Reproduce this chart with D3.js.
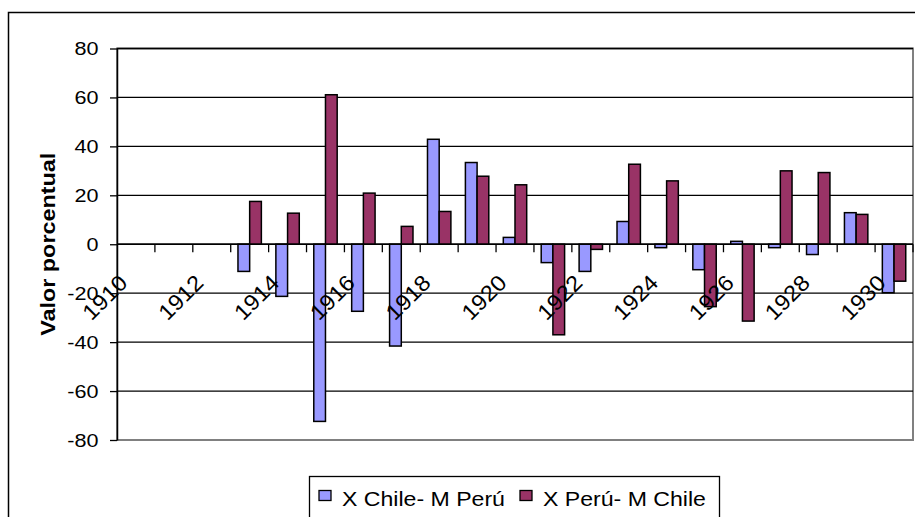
<!DOCTYPE html>
<html>
<head>
<meta charset="utf-8">
<script src="https://cdn.jsdelivr.net/npm/d3@7"></script>
<style>
  html, body { margin: 0; padding: 0; background: #fff; }
  svg { display: block; font-family: "Liberation Sans", Arial, sans-serif; }
</style>
</head>
<body>
<svg id="chart" width="915" height="517"></svg>
<script>
// Years on the category axis
const years = [1910, 1911, 1912, 1913, 1914, 1915, 1916, 1917, 1918, 1919, 1920,
               1921, 1922, 1923, 1924, 1925, 1926, 1927, 1928, 1929, 1930];

// Only every second year carries a label
const yearLabels = [1910, 1912, 1914, 1916, 1918, 1920, 1922, 1924, 1926, 1928, 1930];

// Series: percentage change
const seriesNames = ["X Chile- M Perú", "X Perú- M Chile"];
const xChileMPeru = [null, null, null, -11.1, -21.3, -72.4, -27.4, -41.6, 42.9, 33.4, 2.8,
                     -7.5, -11.1, 9.3, -1.4, -10.4, 1.2, -1.4, -4.2, 12.9, -19.8];
const xPeruMChile = [null, null, null, 17.5, 12.7, 61.1, 20.9, 7.3, 13.4, 27.8, 24.3,
                     -37.0, -2.1, 32.7, 25.9, -25.5, -31.4, 30.0, 29.3, 12.2, -15.1];

const yTicks = [-80, -60, -40, -20, 0, 20, 40, 60, 80];
const yTitle = "Valor porcentual";

const colors = ["#9999FF", "#993366"];
const STRETCH = 1.2;  // wide rendering of the chart font

const svg = d3.select("#chart");

// chart frame
svg.append("rect")
  .attr("x", 8.5).attr("y", 12.5)
  .attr("width", 940).attr("height", 540)
  .attr("fill", "#fff").attr("stroke", "#000").attr("stroke-width", 1.5);

const plot = { left: 117, right: 913, top: 48.5, bottom: 440 };

const x = d3.scaleBand().domain(years).range([plot.left, plot.right]).padding(0);
const xs = d3.scaleBand().domain(seriesNames).range([0, x.bandwidth()])
  .paddingInner(0).paddingOuter(0.62);
const y = d3.scaleLinear().domain([-80, 80]).range([plot.bottom, plot.top]);

// plot area border
svg.append("rect")
  .attr("x", plot.left).attr("y", plot.top)
  .attr("width", plot.right - plot.left).attr("height", plot.bottom - plot.top)
  .attr("fill", "none").attr("stroke", "#808080").attr("stroke-width", 2);

// horizontal gridlines
svg.append("g").selectAll("line")
  .data(yTicks.filter(d => d !== -80))
  .join("line")
  .attr("x1", plot.left).attr("x2", plot.right)
  .attr("y1", d => y(d)).attr("y2", d => y(d))
  .attr("stroke", "#000").attr("stroke-width", 1.3);

// bars
const rows = years.map((yr, i) => ({ year: yr, values: [xChileMPeru[i], xPeruMChile[i]] }));
const groups = svg.append("g").selectAll("g")
  .data(rows).join("g")
  .attr("transform", d => `translate(${x(d.year)},0)`);
groups.selectAll("rect")
  .data(d => d.values.map((v, k) => ({ k, v })).filter(e => e.v !== null))
  .join("rect")
  .attr("x", e => xs(seriesNames[e.k]))
  .attr("width", xs.bandwidth())
  .attr("y", e => y(Math.max(0, e.v)))
  .attr("height", e => Math.abs(y(e.v) - y(0)))
  .attr("fill", e => colors[e.k])
  .attr("stroke", "#000").attr("stroke-width", 1.5);

// category axis along zero
const xAxisY = y(0);
svg.append("line")
  .attr("x1", plot.left).attr("x2", plot.right)
  .attr("y1", xAxisY).attr("y2", xAxisY)
  .attr("stroke", "#000").attr("stroke-width", 1.5);
const boundaries = years.map(yr => x(yr)).concat([x(years[years.length - 1]) + x.bandwidth()]);
svg.append("g").selectAll("line")
  .data(boundaries.slice(1))
  .join("line")
  .attr("x1", d => d).attr("x2", d => d)
  .attr("y1", xAxisY).attr("y2", xAxisY + 8)
  .attr("stroke", "#000").attr("stroke-width", 1.3);

// value axis
const yAxis = svg.append("g")
  .attr("transform", `translate(${plot.left},0)`)
  .call(d3.axisLeft(y).tickValues(yTicks).tickFormat(d => String(d))
    .tickSize(7).tickSizeOuter(0));
yAxis.select(".domain").attr("stroke", "#000").attr("stroke-width", 1.5);
yAxis.selectAll(".tick line").attr("stroke", "#000").attr("stroke-width", 1.3);
yAxis.selectAll(".tick text")
  .attr("x", null).attr("dy", "0.35em")
  .attr("transform", `translate(-18.5,0) scale(${STRETCH},1)`)
  .attr("font-size", 18).attr("fill", "#000")
  .attr("font-family", "'Liberation Sans', Arial, sans-serif");

// rotated year labels (45 degrees, text running up to the right)
svg.append("g").selectAll("text")
  .data(yearLabels)
  .join("text")
  .attr("transform", d =>
    `translate(${x(d) + x.bandwidth() / 2 - 7},${xAxisY + 40}) rotate(-45) scale(1.08,1)`)
  .attr("text-anchor", "end")
  .attr("font-size", 22)
  .attr("fill", "#000")
  .text(d => d);

// value axis title
svg.append("text")
  .attr("transform", `translate(55,${(plot.top + plot.bottom) / 2}) rotate(-90) scale(1.17,1)`)
  .attr("text-anchor", "middle")
  .attr("font-size", 20)
  .attr("font-weight", "bold")
  .attr("fill", "#000")
  .text(yTitle);

// legend
const legend = svg.append("g");
legend.append("rect")
  .attr("x", 309.5).attr("y", 476.5)
  .attr("width", 410).attr("height", 60)
  .attr("fill", "#fff").attr("stroke", "#000").attr("stroke-width", 1.3);
const legendStarts = [319, 520];
seriesNames.forEach((name, k) => {
  legend.append("rect")
    .attr("x", legendStarts[k]).attr("y", 490.5)
    .attr("width", 12).attr("height", 10)
    .attr("fill", colors[k]).attr("stroke", "#000").attr("stroke-width", 1.3);
  legend.append("text")
    .attr("transform", `translate(${legendStarts[k] + 23},506) scale(1.1,1)`)
    .attr("font-size", 21)
    .attr("fill", "#000")
    .text(name);
});
</script>
</body>
</html>
